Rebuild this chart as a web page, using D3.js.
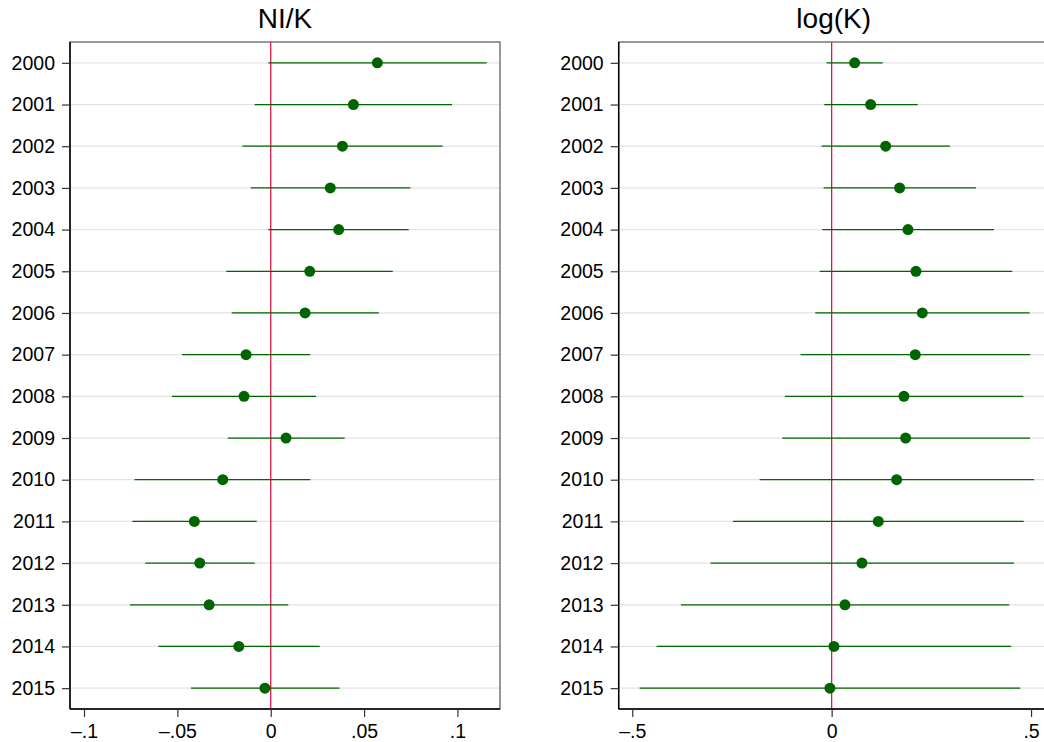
<!DOCTYPE html>
<html>
<head>
<meta charset="utf-8">
<script src="https://cdn.jsdelivr.net/npm/d3@7"></script>
<style>
  body { margin: 0; background: #fff; }
  text { font-family: "Liberation Sans", Arial, sans-serif; fill: #000; }
</style>
</head>
<body>
<div id="chart"></div>
<script>
// data
const years = ["2000","2001","2002","2003","2004","2005","2006","2007",
               "2008","2009","2010","2011","2012","2013","2014","2015"];

const nik_est = [0.0571, 0.0443, 0.0384, 0.0319, 0.0364, 0.0209, 0.0184, -0.0132,
                 -0.0143, 0.0082, -0.0257, -0.0409, -0.0380, -0.0330, -0.0171, -0.0031];
const nik_lo  = [-0.0013, -0.0086, -0.0152, -0.0107, -0.0013, -0.0238, -0.0209, -0.0475,
                 -0.0529, -0.0230, -0.0729, -0.0741, -0.0672, -0.0754, -0.0602, -0.0427];
const nik_hi  = [0.1157, 0.0971, 0.0921, 0.0748, 0.0739, 0.0654, 0.0579, 0.0212,
                 0.0243, 0.0396, 0.0212, -0.0075, -0.0086, 0.0094, 0.0262, 0.0368];

const logk_est = [0.0577, 0.0978, 0.1354, 0.1705, 0.1914, 0.2114, 0.2273, 0.2097,
                  0.1813, 0.1856, 0.1630, 0.1169, 0.0760, 0.0334, 0.0058, -0.0043];
const logk_lo  = [-0.0125, -0.0186, -0.0251, -0.0201, -0.0236, -0.0301, -0.0411, -0.0778,
                  -0.1171, -0.1239, -0.1806, -0.2476, -0.3035, -0.3780, -0.4389, -0.4816];
const logk_hi  = [0.1280, 0.2157, 0.2967, 0.3620, 0.4071, 0.4530, 0.4966, 0.4982,
                  0.4806, 0.4974, 0.5074, 0.4816, 0.4573, 0.4455, 0.4505, 0.4730];

const nik_ticks = [-0.1, -0.05, 0, 0.05, 0.1];
const nik_tick_labels = ["\u2013.1", "\u2013.05", "0", ".05", ".1"];
const logk_ticks = [-0.5, 0, 0.5];
const logk_tick_labels = ["\u2013.5", "0", ".5"];

const width = 1044, height = 742;
const plot_top = 42, plot_bottom = 709;
const green = "#006400";

const svg = d3.select("#chart").append("svg")
    .attr("width", width)
    .attr("height", height)
    .style("background", "#fff");

function drawPanel(opts) {
    const g = svg.append("g");

    const x = d3.scaleLinear().domain(opts.domain).range([opts.left, opts.right]);
    const y = d3.scalePoint().domain(years).range([plot_top, plot_bottom]).padding(0.5);

    // grid lines
    g.append("g").selectAll("line")
        .data(years)
        .join("line")
        .attr("x1", opts.left).attr("x2", opts.right)
        .attr("y1", d => y(d)).attr("y2", d => y(d))
        .attr("stroke", "#e3e3e3")
        .attr("stroke-width", 1.2);

    // plot frame (top / right)
    g.append("rect")
        .attr("x", opts.left).attr("y", plot_top)
        .attr("width", opts.right - opts.left).attr("height", plot_bottom - plot_top)
        .attr("fill", "none")
        .attr("stroke", "#333")
        .attr("stroke-width", 1);

    // zero line
    g.append("line")
        .attr("x1", x(0)).attr("x2", x(0))
        .attr("y1", plot_top).attr("y2", plot_bottom)
        .attr("stroke", "#dc1a4a")
        .attr("stroke-width", 1.3);

    // confidence intervals
    g.append("g").selectAll("line")
        .data(years)
        .join("line")
        .attr("x1", (d, i) => x(opts.lo[i]))
        .attr("x2", (d, i) => x(opts.hi[i]))
        .attr("y1", d => y(d)).attr("y2", d => y(d))
        .attr("stroke", green)
        .attr("stroke-width", 1.3);

    // point estimates
    g.append("g").selectAll("circle")
        .data(years)
        .join("circle")
        .attr("cx", (d, i) => x(opts.est[i]))
        .attr("cy", d => y(d))
        .attr("r", 5.5)
        .attr("fill", green);

    // y axis
    const yAxis = g.append("g")
        .attr("transform", "translate(" + opts.left + ",0)")
        .call(d3.axisLeft(y).tickSize(8).tickPadding(7));
    yAxis.select(".domain").attr("stroke", "#000").attr("stroke-width", 1.5)
        .attr("d", "M0," + plot_top + "V" + plot_bottom);
    yAxis.selectAll(".tick line").attr("stroke", "#333").attr("stroke-width", 1.2);
    yAxis.selectAll("text").attr("font-size", "19.5px")
        .attr("font-family", "Liberation Sans, Arial, sans-serif").attr("fill", "#000");

    // x axis
    const xAxis = g.append("g")
        .attr("transform", "translate(0," + plot_bottom + ")")
        .call(d3.axisBottom(x).tickValues(opts.ticks)
            .tickFormat((d, i) => opts.tickLabels[i])
            .tickSize(8).tickPadding(7));
    xAxis.select(".domain").attr("stroke", "#000").attr("stroke-width", 1.5)
        .attr("d", "M" + opts.left + ",0H" + opts.right);
    xAxis.selectAll(".tick line").attr("stroke", "#333").attr("stroke-width", 1.2);
    xAxis.selectAll("text").attr("font-size", "19.5px")
        .attr("font-family", "Liberation Sans, Arial, sans-serif").attr("fill", "#000");

    // title
    g.append("text")
        .attr("x", (opts.left + opts.right) / 2)
        .attr("y", 28)
        .attr("text-anchor", "middle")
        .attr("font-size", "28px")
        .text(opts.title);
}

drawPanel({
    title: "NI/K",
    left: 70, right: 500,
    domain: [-0.1075, 0.1228],
    est: nik_est, lo: nik_lo, hi: nik_hi,
    ticks: nik_ticks, tickLabels: nik_tick_labels
});

drawPanel({
    title: "log(K)",
    left: 618.7, right: 1048.7,
    domain: [-0.534, 0.5443],
    est: logk_est, lo: logk_lo, hi: logk_hi,
    ticks: logk_ticks, tickLabels: logk_tick_labels
});
</script>
</body>
</html>
